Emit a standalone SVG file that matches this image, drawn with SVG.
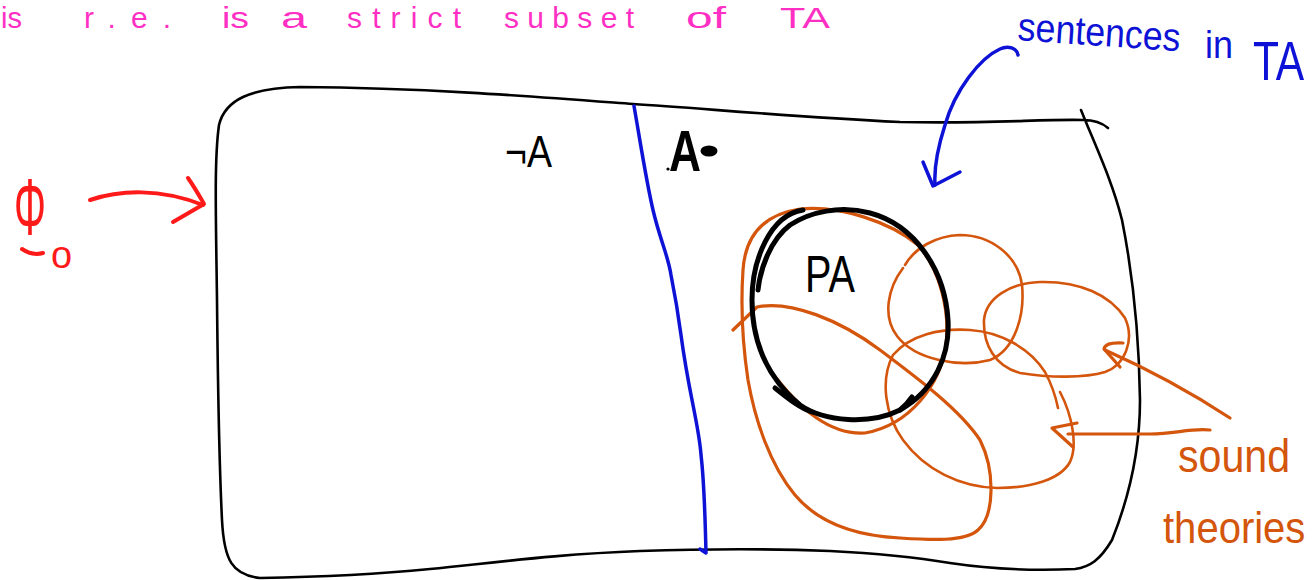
<svg xmlns="http://www.w3.org/2000/svg" width="1314" height="580" viewBox="0 0 1314 580">
<style>
.t{font-family:"Liberation Sans","DejaVu Sans",sans-serif}
.pink{fill:#ff2fc4;font-size:30px}
.blue{fill:#0d12d6}
.red{fill:#ff1a1a}
.org{fill:#d4550c}
.blk{fill:#000}
.ln{fill:none;stroke-linecap:round;stroke-linejoin:round}
.bl{stroke:#0d12d6;stroke-width:3.5}
.rd{stroke:#ff1a1a;stroke-width:4}
.or{stroke:#d4550c;stroke-width:2.6}
.orA{stroke:#d4550c;stroke-width:3.2}
.bk{stroke:#000;stroke-width:2.6}
.bkT{stroke:#000;stroke-width:5}
</style>
<rect width="1314" height="580" fill="#fff"/>

<g id="caption">
<text class="t pink" x="1" y="28" textLength="21" lengthAdjust="spacingAndGlyphs">is</text>
<text class="t pink" x="84" y="28" textLength="87" lengthAdjust="spacing">r.e.</text>
<text class="t pink" x="222" y="28" textLength="27" lengthAdjust="spacingAndGlyphs">is</text>
<text class="t pink" x="281" y="28" textLength="26" lengthAdjust="spacingAndGlyphs">a</text>
<text class="t pink" x="347" y="28" textLength="114" lengthAdjust="spacing">strict</text>
<text class="t pink" x="504" y="28" textLength="130" lengthAdjust="spacing">subset</text>
<text class="t pink" x="686" y="28" textLength="40" lengthAdjust="spacingAndGlyphs">of</text>
<text class="t pink" x="780" y="28" textLength="50" lengthAdjust="spacingAndGlyphs">TA</text>
</g>

<g id="frame">
<path class="ln bk" d="M1108,128 C1100,121 1090,120 1083,120 C1040,119 990,124 900,122 C780,116 700,108 633,104 C540,97 430,88 300,87 C250,88 225,100 219,125 C214,160 216,220 217,300 C218,400 220,480 222,520 C224,560 232,575 260,578 C320,577 380,574 430,569 C500,562 560,554 640,551 C700,549 780,549 830,551 C890,554 920,558 950,563 C990,569 1030,571 1075,569 C1090,567 1100,560 1112,540 C1128,500 1140,450 1140,400 C1139,330 1132,270 1122,220 C1112,180 1095,145 1081,110"/>
</g>

<g id="divider">
<path class="ln bl" d="M634,106 C640,140 646,180 653,210 C660,240 668,255 671,275 C676,300 679,320 681,335 C685,365 689,385 693,405 C697,425 700,440 701,455 C704,480 705,510 706,553 L700,549"/>
</g>

<g id="label-notA">
<text class="t blk" x="505" y="167" font-size="44" textLength="47" lengthAdjust="spacingAndGlyphs">¬A</text>
</g>

<g id="label-A">
<text class="t blk" x="669" y="171" font-size="58" font-weight="bold" textLength="32" lengthAdjust="spacingAndGlyphs">A</text>
<ellipse cx="709" cy="151" rx="8.5" ry="5.5" fill="#000"/>
<circle cx="668" cy="169" r="1.6" fill="#000"/>
</g>

<g id="phi0">
<text class="t red" font-size="80" transform="translate(14,234) scale(0.5,1)">Φ</text>
<path class="ln rd" d="M22,249 C28,253 36,255 43,253"/>
<text class="t red" x="51" y="268" font-size="38">o</text>
</g>

<g id="sound-theories-sets">
<path class="ln orA" d="M733,330 L757,307 C790,300 840,320 880,350 C920,380 960,410 980,440 C995,470 995,515 978,530 C965,542 930,540 900,538 C860,536 820,525 795,495 C770,465 755,420 748,380 C742,340 741,300 743,270 C745,240 760,215 800,209 C840,205 890,222 918,245 C940,270 950,310 946,345 C940,385 910,425 865,433 C830,435 800,410 770,370"/>
<path class="ln or" d="M903,268 C888,288 882,316 897,336 C915,360 960,368 990,360 C1015,350 1025,315 1022,285 C1018,255 990,235 960,235 C935,236 915,248 905,265"/>
<path class="ln or" d="M1040,282 C1080,281 1110,295 1125,318 C1135,340 1125,365 1105,372 C1085,378 1050,378 1020,373 C995,366 983,345 984,320 C986,298 1010,283 1040,282"/>
<path class="ln or" d="M1060,392 C1072,415 1078,445 1070,462 C1060,480 1030,488 997,488 C960,487 925,470 903,440 C885,415 880,380 893,355 C910,335 940,328 970,330 C1000,332 1030,348 1045,372 C1052,385 1056,398 1058,408"/>
</g>

<g id="PA">
<path class="ln bkT" d="M803,210 C770,215 752,260 752,300 C752,345 770,380 800,405 C825,422 870,425 900,410 C935,390 950,355 948,320 C945,270 915,225 870,213 C840,205 810,212 790,225 C770,240 760,270 758,290"/>
<path class="ln bkT" d="M775,388 C790,400 800,408 812,412 M900,410 C906,405 910,400 912,397"/>
<text class="t blk" x="805" y="292" font-size="52" textLength="50" lengthAdjust="spacingAndGlyphs">PA</text>
</g>

<g id="labels">
<text class="t blue" x="1017" y="40" font-size="40" textLength="163" lengthAdjust="spacingAndGlyphs" transform="rotate(4 1017 40)">sentences</text>
<text class="t blue" x="1205" y="58" font-size="38" textLength="28" lengthAdjust="spacingAndGlyphs">in</text>
<text class="t blue" font-size="56" transform="translate(1253,80) scale(0.76,1)">TA</text>
<text class="t org" x="1178" y="472" font-size="46" textLength="112" lengthAdjust="spacingAndGlyphs">sound</text>
<text class="t org" font-size="44" transform="translate(1163,543) scale(0.91,1)">theories</text>
</g>

<g id="connectors">
<path class="ln bl" d="M1018,55 C1017,48 1008,45 1000,49 C980,58 955,90 945,125 C937,150 934,170 935,185"/>
<path class="ln bl" d="M923,162 L933,186 L960,172"/>
<path class="ln rd" d="M90,200 C120,190 160,188 203,205"/>
<path class="ln rd" d="M188,178 C195,188 200,197 204,204 L173,222"/>
<path class="ln orA" d="M1230,418 C1195,395 1150,370 1105,350"/>
<path class="ln orA" d="M1123,343 Q1105,342 1104,349 L1120,367"/>
<path class="ln orA" d="M1210,430 C1190,428 1175,434 1150,434 L1068,434"/>
<path class="ln orA" d="M1077,423 L1052,428 L1073,447"/>
</g>
</svg>
